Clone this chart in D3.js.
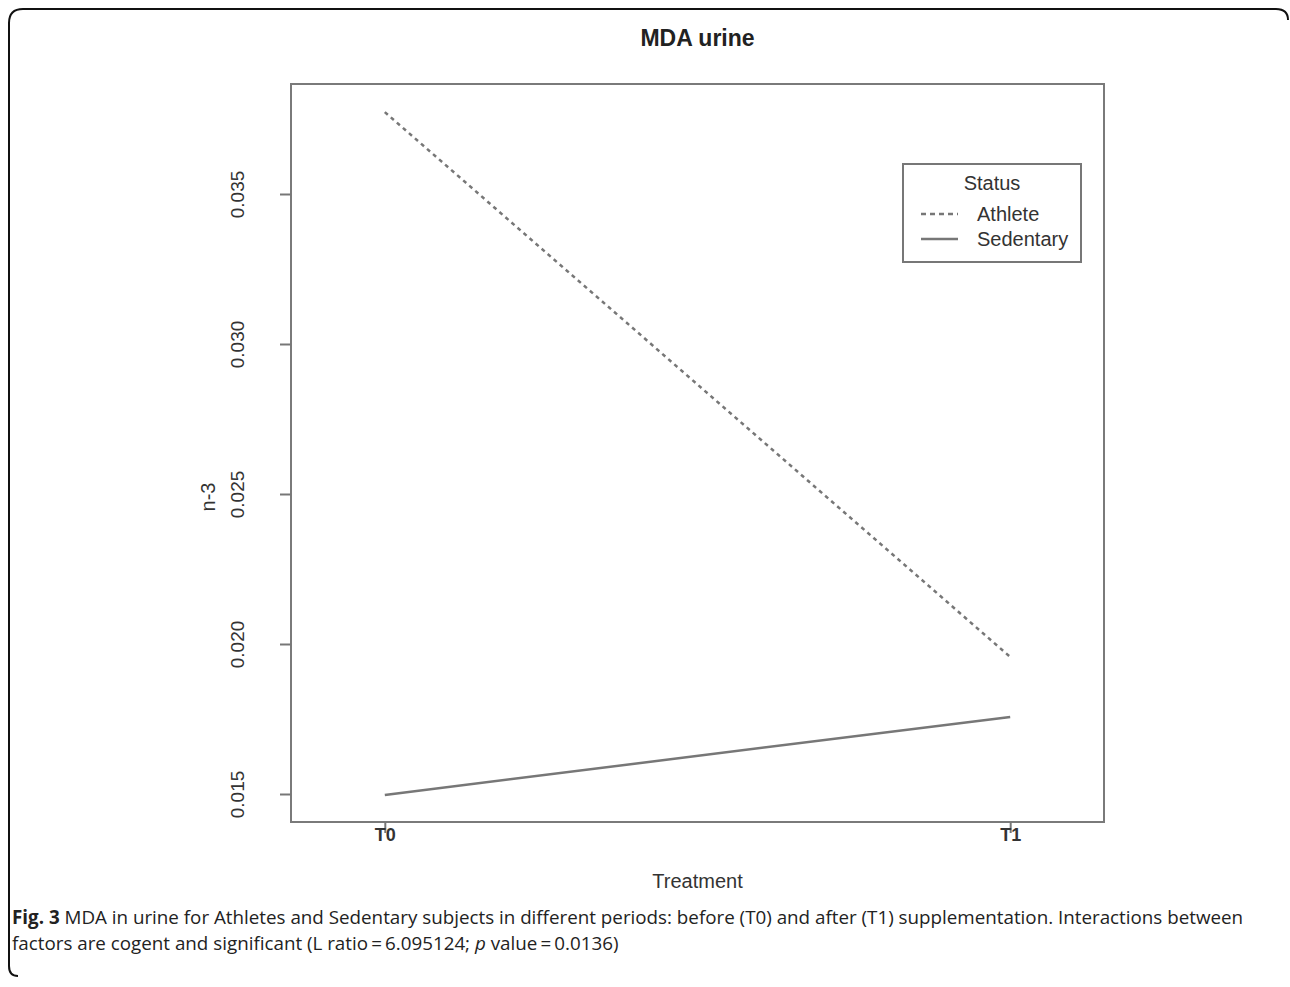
<!DOCTYPE html>
<html><head><meta charset="utf-8">
<script src="https://cdn.jsdelivr.net/npm/d3@7"></script>
<style>body{margin:0;background:#fff}svg{display:block}</style>
</head><body>
<svg id="c" width="1290" height="987"></svg>
<script>
const categories = ["T0", "T1"];
const athlete = [0.03773, 0.01957];
const sedentary = [0.01497, 0.01757];
const yTicks = [0.015, 0.020, 0.025, 0.030, 0.035];
const seriesNames = ["Athlete", "Sedentary"];

const FONT = "Liberation Sans, Arial, Helvetica, sans-serif";
const svg = d3.select("#c");
const frame = {l: 291, t: 84, r: 1104, b: 822};

// outer figure border
svg.append("path")
  .attr("d", "M9,966 Q9,976 18,976 M9,966 L9,23 Q9,9 23,9 L1276,9 Q1288,9 1288,20")
  .attr("fill", "none").attr("stroke", "#111").attr("stroke-width", 2);

const x = d3.scaleLinear().domain([0.85, 2.15]).range([frame.l, frame.r]);
const y = d3.scaleLinear().domain([0.015 - 28/30000, 0.015 + 710/30000]).range([frame.b, frame.t]);

// frame
svg.append("rect").attr("x", frame.l).attr("y", frame.t)
  .attr("width", frame.r - frame.l).attr("height", frame.b - frame.t)
  .attr("fill", "none").attr("stroke", "#7a7a7a").attr("stroke-width", 2);

// y axis
const yAxis = svg.append("g").attr("transform", `translate(${frame.l},0)`)
  .call(d3.axisLeft(y).tickValues(yTicks).tickFormat(d3.format(".3f")).tickSize(11).tickSizeOuter(0));
yAxis.select(".domain").remove();
yAxis.selectAll(".tick line").attr("stroke", "#777").attr("stroke-width", 2);
yAxis.selectAll(".tick text").attr("transform", "rotate(-90)")
  .attr("x", 0).attr("y", -54).attr("dy", "0.35em").attr("text-anchor", "middle")
  .attr("font-family", FONT).attr("font-size", 19).attr("fill", "#333");

// x axis
const xAxis = svg.append("g").attr("transform", `translate(0,${frame.b})`)
  .call(d3.axisBottom(x).tickValues([1, 2]).tickFormat((d) => categories[d - 1]).tickSize(11).tickSizeOuter(0));
xAxis.select(".domain").remove();
xAxis.selectAll(".tick line").attr("stroke", "#777").attr("stroke-width", 2);
xAxis.selectAll(".tick text").attr("y", 6).attr("dy", "0.71em")
  .attr("font-family", FONT).attr("font-size", 18)
  .attr("font-weight", "bold").attr("fill", "#333");

// lines
const line = d3.line().x((d, i) => x(i + 1)).y((d) => y(d));
svg.append("path").datum(athlete).attr("d", line)
  .attr("fill", "none").attr("stroke", "#777").attr("stroke-width", 2.5).attr("stroke-dasharray", "4,4");
svg.append("path").datum(sedentary).attr("d", line)
  .attr("fill", "none").attr("stroke", "#777").attr("stroke-width", 2.5);

// title
svg.append("text").attr("x", (frame.l + frame.r) / 2).attr("y", 46).attr("text-anchor", "middle")
  .attr("font-family", FONT).attr("font-size", 23).attr("font-weight", "bold")
  .attr("fill", "#222").text("MDA urine");

// axis titles
svg.append("text").attr("x", (frame.l + frame.r) / 2).attr("y", 888).attr("text-anchor", "middle")
  .attr("font-family", FONT).attr("font-size", 20)
  .attr("fill", "#333").text("Treatment");
svg.append("text").attr("transform", "translate(208,497) rotate(-90)")
  .attr("text-anchor", "middle").attr("dy", "0.35em")
  .attr("font-family", FONT).attr("font-size", 20)
  .attr("fill", "#333").text("n-3");

// legend
const lg = svg.append("g");
lg.append("rect").attr("x", 903).attr("y", 164).attr("width", 178).attr("height", 98)
  .attr("fill", "#fff").attr("stroke", "#777").attr("stroke-width", 2);
lg.append("text").attr("x", 992).attr("y", 190).attr("text-anchor", "middle")
  .attr("font-family", FONT).attr("font-size", 20).attr("fill", "#333").text("Status");
const dashes = ["5,4", null];
seriesNames.forEach((name, i) => {
  const yy = 214 + i * 25;
  const l = lg.append("line").attr("x1", 921).attr("x2", 958).attr("y1", yy).attr("y2", yy)
    .attr("stroke", "#777").attr("stroke-width", 2.5);
  if (dashes[i]) l.attr("stroke-dasharray", dashes[i]);
  lg.append("text").attr("x", 977).attr("y", yy + 7)
    .attr("font-family", FONT).attr("font-size", 20).attr("fill", "#333").text(name);
});

// caption: each run is its own text element, placed after the previous one
const cap = svg.append("g").attr("font-family", "Open Sans, sans-serif").attr("font-size", 18.8).attr("fill", "#222");
function runs(parts, yPos) {
  let cx = 12;
  parts.forEach((p) => {
    const t = cap.append("text").attr("x", cx).attr("y", yPos).attr("xml:space", "preserve")
      .style("white-space", "pre").text(p.s);
    if (p.b) t.attr("font-weight", "bold");
    if (p.i) t.attr("font-style", "italic");
    cx += t.node().getComputedTextLength();
  });
}
runs([{s: "Fig. 3", b: true},
      {s: " MDA in urine for Athletes and Sedentary subjects in different periods: before (T0) and after (T1) supplementation. Interactions between"}], 924);
runs([{s: "factors are cogent and significant (L ratio\u2009=\u20096.095124; "},
      {s: "p", i: true},
      {s: " value\u2009=\u20090.0136)"}], 950);
</script>
</body></html>
